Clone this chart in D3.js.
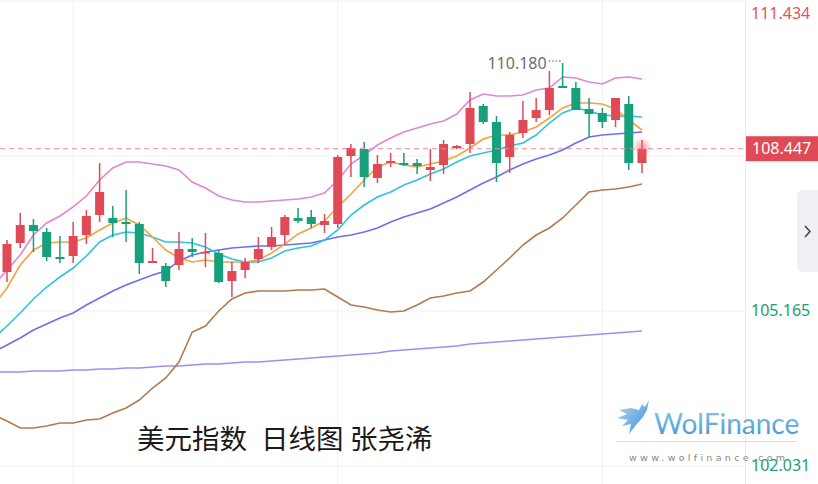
<!DOCTYPE html>
<html><head><meta charset="utf-8">
<script src="https://cdn.jsdelivr.net/npm/d3@7"></script>
<style>html,body{margin:0;padding:0;background:#fff;overflow:hidden}svg{display:block}</style>
</head><body>
<svg id="chart" width="818" height="484"></svg>
<script>
// ---- candle data (49 daily bars) ----
const open  = [105.954,106.541,106.905,106.763,106.258,106.278,106.702,107.107,107.046,106.965,106.925,106.136,106.076,106.096,106.419,106.338,106.338,105.772,105.995,106.217,106.460,106.702,107.046,107.066,106.905,106.925,108.300,108.442,107.855,108.158,108.158,108.158,108.017,108.118,108.462,108.543,109.311,108.988,108.280,108.765,109.068,109.230,109.716,109.675,109.250,109.170,109.028,109.352,108.158];
const high  = [106.601,107.147,107.026,106.844,106.682,106.965,107.208,108.158,107.289,107.612,106.965,106.440,106.136,106.763,106.642,106.743,106.399,106.156,106.237,106.662,106.864,107.107,107.248,107.208,107.127,108.320,108.543,108.583,108.320,108.361,108.361,108.239,108.442,108.624,108.522,109.594,109.352,109.109,108.785,109.412,109.473,110.019,110.180,109.796,109.473,109.271,109.473,109.513,108.624];
const low   = [105.752,106.440,106.359,106.177,106.136,106.136,106.520,106.965,106.662,106.561,105.914,106.136,105.651,105.995,106.258,106.055,105.732,105.449,105.833,106.136,106.399,106.500,106.945,106.844,106.743,106.844,107.875,107.673,107.754,108.078,108.098,107.936,107.794,107.936,108.442,108.361,108.947,107.774,107.956,108.664,108.988,109.129,109.675,109.230,108.684,108.866,108.886,108.017,107.956];
const close = [106.520,106.905,106.783,106.258,106.217,106.682,107.087,107.572,106.945,106.925,106.136,106.177,105.772,106.419,106.359,106.359,105.752,105.974,106.156,106.419,106.662,107.066,106.986,106.925,106.986,108.280,108.462,107.875,108.138,108.199,108.118,108.098,108.078,108.543,108.502,109.271,108.988,108.158,108.725,109.028,109.230,109.675,109.675,109.230,109.149,108.988,109.473,108.158,108.447];

// ---- indicator lines (50 values: first value is the bar just left of the view) ----
const ma5   = [105.287,105.631,106.096,106.399,106.541,106.561,106.561,106.642,106.804,106.945,107.046,106.905,106.662,106.399,106.237,106.156,106.197,106.156,106.156,106.156,106.197,106.338,106.520,106.723,106.844,106.986,107.269,107.532,107.815,108.078,108.179,108.118,108.078,108.138,108.199,108.300,108.462,108.644,108.725,108.725,108.785,108.886,109.068,109.271,109.372,109.372,109.352,109.250,109.028,108.826];
const ma10  = [104.620,104.862,105.125,105.408,105.651,105.853,106.035,106.278,106.561,106.702,106.763,106.743,106.662,106.561,106.561,106.541,106.460,106.318,106.217,106.156,106.156,106.237,106.379,106.440,106.480,106.601,106.804,107.107,107.309,107.471,107.572,107.714,107.815,107.936,108.037,108.179,108.300,108.361,108.421,108.502,108.563,108.725,108.967,109.170,109.271,109.210,109.129,109.109,109.109,109.089];
const ma20  = [104.336,104.478,104.620,104.781,104.903,105.024,105.125,105.287,105.428,105.570,105.691,105.792,105.894,105.974,106.177,106.298,106.359,106.399,106.440,106.460,106.480,106.480,106.500,106.520,106.541,106.601,106.662,106.702,106.763,106.844,106.965,107.066,107.147,107.228,107.350,107.471,107.612,107.754,107.875,108.017,108.138,108.239,108.320,108.421,108.563,108.684,108.725,108.745,108.765,108.785];
const bbUpper = [105.691,105.995,106.298,106.702,106.945,107.087,107.269,107.491,107.815,108.057,108.179,108.179,108.138,108.098,108.017,107.774,107.653,107.491,107.410,107.370,107.370,107.390,107.410,107.430,107.471,107.552,107.815,108.138,108.320,108.522,108.664,108.785,108.866,108.947,109.008,109.149,109.432,109.554,109.513,109.513,109.534,109.635,109.675,109.898,109.877,109.796,109.756,109.877,109.898,109.857];
const bbLower = [103.063,102.941,102.800,102.800,102.840,102.901,102.901,102.961,102.982,103.103,103.204,103.366,103.608,103.811,104.134,104.741,104.862,105.166,105.408,105.530,105.570,105.570,105.570,105.590,105.590,105.610,105.449,105.287,105.246,105.186,105.145,105.166,105.287,105.428,105.469,105.530,105.570,105.752,105.995,106.237,106.500,106.702,106.844,107.046,107.309,107.572,107.612,107.633,107.673,107.734];
const maLong = [103.932,103.932,103.932,103.952,103.952,103.952,103.972,103.972,103.993,103.993,104.013,104.013,104.033,104.053,104.053,104.074,104.094,104.094,104.114,104.134,104.134,104.154,104.175,104.195,104.215,104.235,104.256,104.276,104.296,104.316,104.357,104.377,104.397,104.417,104.438,104.458,104.498,104.519,104.539,104.559,104.579,104.599,104.620,104.640,104.660,104.680,104.701,104.721,104.741,104.761];

// ---- axis ----
const priceTicks = [111.434, 108.300, 105.165, 102.031];
const titleParts = ["美元指数", "日线图", "张尧浠"];

const svg = d3.select("#chart");
const W = 818, H = 484, plotRight = 745;
const x = d3.scaleLinear().domain([0, 48]).range([7, 642]);
const y = d3.scaleLinear().domain([102.031, 108.300]).range([466, 156]);

const RED = "#e04a57", GREEN = "#16a07c";

const defs = svg.append("defs");
defs.append("clipPath").attr("id","plotclip").append("rect").attr("x",0).attr("y",0).attr("width",plotRight).attr("height",H);
const rg = defs.append("radialGradient").attr("id","glow");
rg.append("stop").attr("offset","0%").attr("stop-color","#f06070").attr("stop-opacity",0.55);
rg.append("stop").attr("offset","100%").attr("stop-color","#f06070").attr("stop-opacity",0);
const lg = defs.append("linearGradient").attr("id","logoText").attr("x1","0").attr("x2","0").attr("y1","0").attr("y2","1");
lg.append("stop").attr("offset","0%").attr("stop-color","#8cc8ee");
lg.append("stop").attr("offset","100%").attr("stop-color","#3f92d4");
const lg2 = defs.append("linearGradient").attr("id","wolfGrad").attr("x1","0").attr("x2","1").attr("y1","0").attr("y2","1");
lg2.append("stop").attr("offset","0%").attr("stop-color","#b6dcf5");
lg2.append("stop").attr("offset","100%").attr("stop-color","#3d8cd2");

// grid
const grid = svg.append("g");
grid.selectAll("line.h").data(priceTicks).join("line")
  .attr("x1",0).attr("x2",plotRight).attr("y1",d=>y(d)).attr("y2",d=>y(d))
  .attr("stroke","#f0f0f0").attr("stroke-width",1);
grid.selectAll("line.v").data([5,25,45]).join("line")
  .attr("x1",d=>x(d)).attr("x2",d=>x(d)).attr("y1",0).attr("y2",H)
  .attr("stroke","#f0f0f0").attr("stroke-width",1);
svg.append("line").attr("x1",plotRight+0.5).attr("x2",plotRight+0.5).attr("y1",0).attr("y2",H).attr("stroke","#ececec");

// watermark logo
const logo = svg.append("g");
logo.append("path")
  .attr("d","M649,400 L645,407 L642,404 L639,410 L631,408 L619,410 L627,414 L617,418 L628,420 L622,426 L631,424 L629,434 L636,425 L643,417 L647,410 Z")
  .attr("fill","url(#wolfGrad)");
logo.append("text").attr("x",654).attr("y",434).attr("font-family","Lato, 'Open Sans', sans-serif")
  .attr("font-size",28).attr("fill","url(#logoText)").text("WolFinance");
logo.append("line").attr("x1",617).attr("x2",797).attr("y1",441.5).attr("y2",441.5).attr("stroke","#dcdcdc");
logo.append("text").attr("x",629).attr("y",461).attr("font-family","'DejaVu Sans', sans-serif")
  .attr("font-size",9.5).attr("letter-spacing",3.3).attr("fill","#888").text("www.wolfinance.com");

// title
const tt = svg.append("text").attr("y",449).attr("font-family","'Noto Sans CJK SC', sans-serif")
  .attr("font-size",27.5).attr("fill","#1a1a1a");
const titleX = [137, 261, 350];
titleParts.forEach((t,i)=>tt.append("tspan").attr("x",titleX[i]).text(t));

const plot = svg.append("g").attr("clip-path","url(#plotclip)");

// lines
const xl = d3.scaleLinear().domain([-1, 48]).range([x(-1), x(48)]);
const lineGen = d3.line().x((d,i)=>xl(i-1)).y(d=>y(d));
const series = [
  {v: maLong, c:"#a58af3"},
  {v: bbLower, c:"#b7784c"},
  {v: bbUpper, c:"#de86d8"},
  {v: ma20, c:"#6d6ff2"},
  {v: ma10, c:"#2fc3dc"},
  {v: ma5, c:"#f9a03f"}
];
plot.selectAll("path.ln").data(series).join("path")
  .attr("d",d=>lineGen(d.v)).attr("fill","none").attr("stroke",d=>d.c).attr("stroke-width",1.6);

// candles
const idx = d3.range(close.length);
const bw = 9;
const cg = plot.selectAll("g.c").data(idx).join("g");
cg.append("line")
  .attr("x1",i=>x(i)).attr("x2",i=>x(i)).attr("y1",i=>y(high[i])).attr("y2",i=>y(low[i]))
  .attr("stroke",i=>close[i]>=open[i]?RED:GREEN).attr("stroke-width",1.5);
cg.append("rect")
  .attr("x",i=>x(i)-bw/2).attr("width",bw)
  .attr("y",i=>y(Math.max(open[i],close[i])))
  .attr("height",i=>Math.max(1.5, Math.abs(y(open[i])-y(close[i]))))
  .attr("fill",i=>close[i]>=open[i]?RED:GREEN);

// current price dashed line & glow
const last = close[close.length-1];
plot.append("line").attr("x1",0).attr("x2",plotRight).attr("y1",y(last)).attr("y2",y(last))
  .attr("stroke","#f08c98").attr("stroke-dasharray","5,4").attr("stroke-width",1);
plot.append("circle").attr("cx",x(48)).attr("cy",y(last)-2).attr("r",10).attr("fill","url(#glow)");

// max high annotation
const mi = d3.maxIndex(high);
svg.append("text").attr("x",x(mi)-16).attr("y",y(high[mi])).attr("dy","0.36em")
  .attr("text-anchor","end").attr("font-family","'Noto Sans', sans-serif").attr("font-size",16)
  .attr("fill","#6e6e6e").text(d3.format(".3f")(high[mi]));
svg.append("line").attr("x1",x(mi)-14).attr("x2",x(mi)-1).attr("y1",y(high[mi])-2).attr("y2",y(high[mi])-2)
  .attr("stroke","#888").attr("stroke-dasharray","1.5,2").attr("stroke-width",1.5);

// right axis
const axisG = svg.append("g").attr("transform",`translate(${plotRight+6},0)`)
  .call(d3.axisRight(y).tickValues(priceTicks).tickFormat(d3.format(".3f")).tickSize(0).tickPadding(0));
axisG.select(".domain").remove();
axisG.selectAll(".tick").attr("transform",d=>`translate(0,${Math.max(14, y(d))})`);
axisG.selectAll("text").attr("font-family","'Noto Sans', sans-serif").attr("font-size",16)
  .attr("fill",d=>d>last?"#e2525e":"#1a9e78");

// current price box
const pb = svg.append("g").attr("transform",`translate(${plotRight+1},${y(last)})`);
pb.append("rect").attr("x",0).attr("y",-12.5).attr("width",W-plotRight).attr("height",25).attr("fill","#e04a55");
pb.append("text").attr("x",6).attr("dy","0.36em").attr("font-family","'Noto Sans', sans-serif")
  .attr("font-size",16).attr("fill","#fff").text(d3.format(".3f")(last));

// side button
svg.append("rect").attr("x",797).attr("y",190).attr("width",28).attr("height",82).attr("rx",6).attr("fill","#eef0f3");
svg.append("polyline").attr("points","805,226 810,231.5 805,237").attr("fill","none").attr("stroke","#444").attr("stroke-width",1.6);
</script>
</body></html>
